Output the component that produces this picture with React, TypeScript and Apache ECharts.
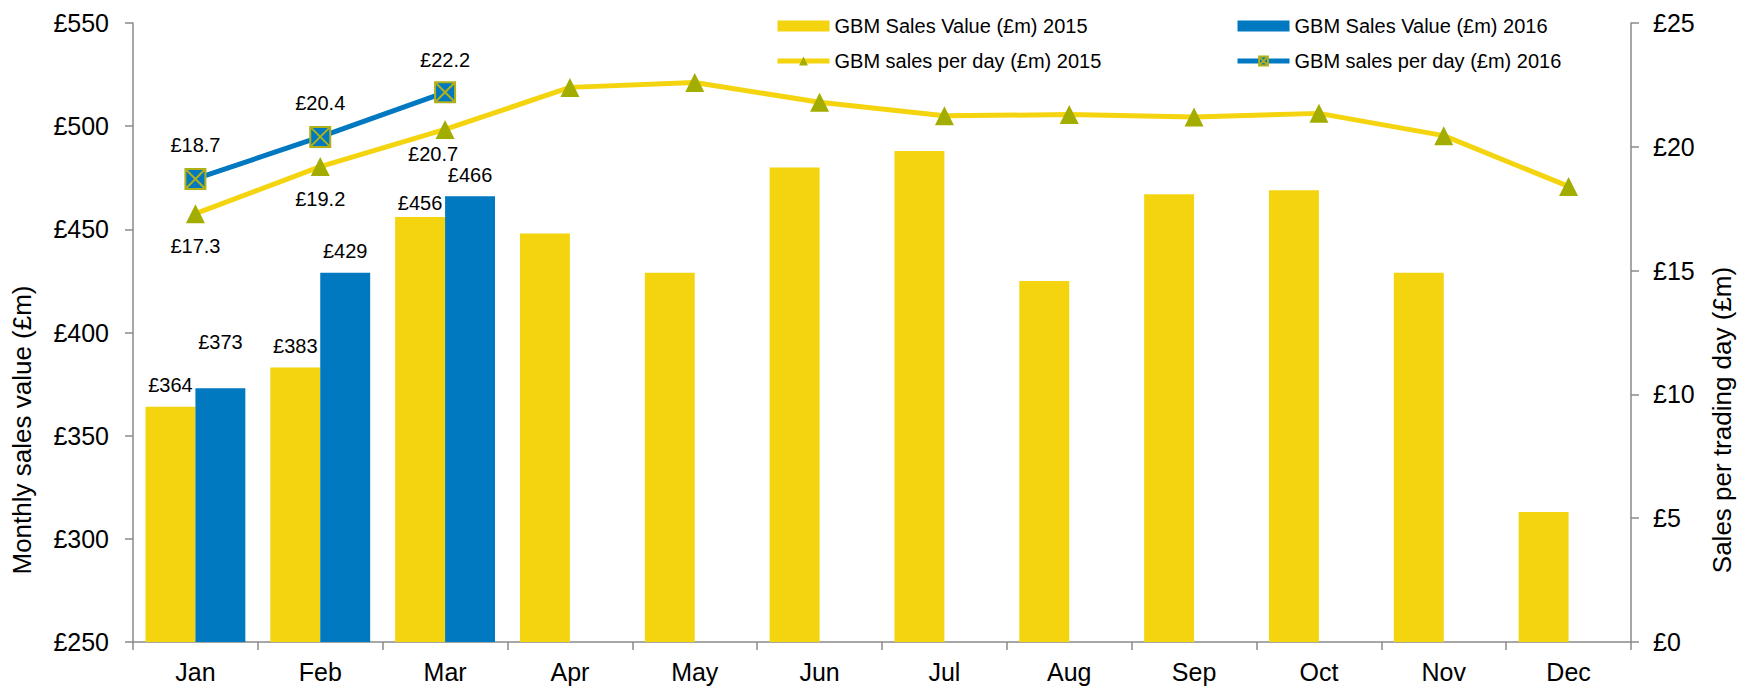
import React, { useEffect, useRef } from "react";
import * as echarts from "echarts";

// Months on the category axis
const months = ["Jan", "Feb", "Mar", "Apr", "May", "Jun", "Jul", "Aug", "Sep", "Oct", "Nov", "Dec"];

// Monthly sales value (£m)
const salesValue2015 = [364, 383, 456, 448, 429, 480, 488, 425, 467, 469, 429, 313];
const salesValue2016 = [373, 429, 466];

// Sales per trading day (£m)
const perDay2015 = [17.3, 19.2, 20.7, 22.4, 22.6, 21.8, 21.25, 21.3, 21.2, 21.35, 20.45, 18.4];
const perDay2016 = [18.7, 20.4, 22.2];

// Only the first quarter carries value labels
const labelledMonths = 3;

// Axis ranges
const valueAxisRange = { min: 250, max: 550, interval: 50 };
const perDayAxisRange = { min: 0, max: 25, interval: 5 };

const NAMES = {
  bar2015: "GBM Sales Value (£m) 2015",
  bar2016: "GBM Sales Value (£m) 2016",
  line2015: "GBM sales per day (£m) 2015",
  line2016: "GBM sales per day (£m) 2016",
};

const YELLOW = "#F4D40F";
const BLUE = "#0079C1";
const OLIVE = "#A3AD00";
const AXIS_GREY = "#8a8a8a";
const FONT = '"Liberation Sans", Arial, sans-serif';

// Square marker crossed with an X
const crossSquare = "path://M0,0H20V20H0Z M0,0L20,20 M20,0L0,20";

const money = (v: number | string) => "£" + v;

function buildOption(): echarts.EChartsOption {
  const barLabel = (distance: number) => ({
    show: true,
    position: "top" as const,
    distance,
    color: "#000",
    fontSize: 20,
    fontFamily: FONT,
    formatter: (p: any) => money(p.value),
  });

  // label lift above each labelled bar
  const lift2015 = [12, 12, 4];
  const lift2016 = [36, 12, 11];

  const bars2015 = salesValue2015.map((v, i) => ({
    value: v,
    label: i < labelledMonths ? barLabel(lift2015[i]) : { show: false },
  }));
  const bars2016 = salesValue2016.map((v, i) => ({
    value: v,
    label: i < labelledMonths ? barLabel(lift2016[i]) : { show: false },
  }));

  const lineLabel = (position: "top" | "bottom", distance: number, offset: number[] = [0, 0]) => ({
    show: true,
    position,
    distance,
    offset,
    color: "#000",
    fontSize: 20,
    fontFamily: FONT,
    formatter: (p: any) => money(p.value),
  });

  const points2015 = perDay2015.map((v, i) => ({
    value: v,
    label:
      i < labelledMonths
        ? i === 2
          ? lineLabel("bottom", 5, [-12, 0])
          : lineLabel("bottom", 13)
        : { show: false },
  }));
  const points2016 = perDay2016.map((v, i) => ({
    value: v,
    label: lineLabel("top", i === 2 ? 11 : 13),
  }));

  const legendText = { fontSize: 20, lineHeight: 22, color: "#000", fontFamily: FONT };

  const axisLabelStyle = { color: "#000", fontSize: 25, fontFamily: FONT };

  const legendBase = {
    top: 10,
    orient: "vertical" as const,
    itemWidth: 52,
    itemHeight: 11,
    itemGap: 13,
    selectedMode: false,
    textStyle: legendText,
    lineStyle: { width: "inherit" as any },
  };

  return {
    animation: false,
    backgroundColor: "#ffffff",
    grid: { left: 133, right: 121, top: 23, bottom: 45, containLabel: false },
    legend: [
      {
        ...legendBase,
        left: 770,
        data: [{ name: NAMES.bar2015, icon: "rect" }, { name: NAMES.line2015 }],
      },
      {
        ...legendBase,
        left: 1230,
        data: [{ name: NAMES.bar2016, icon: "rect" }, { name: NAMES.line2016 }],
      },
    ],
    xAxis: {
      type: "category",
      data: months,
      boundaryGap: true,
      axisLine: { show: true, lineStyle: { color: AXIS_GREY, width: 1.5 } },
      axisTick: { show: true, length: 8, alignWithLabel: false, lineStyle: { color: AXIS_GREY, width: 1.5 } },
      axisLabel: { ...axisLabelStyle, margin: 17 },
      splitLine: { show: false },
    },
    yAxis: [
      {
        type: "value",
        position: "left",
        ...valueAxisRange,
        axisLine: { show: true, lineStyle: { color: AXIS_GREY, width: 1.5 } },
        axisTick: { show: true, length: 8, lineStyle: { color: AXIS_GREY, width: 1.5 } },
        axisLabel: { ...axisLabelStyle, margin: 24, formatter: (v: number) => money(v) },
        splitLine: { show: false },
      },
      {
        type: "value",
        position: "right",
        ...perDayAxisRange,
        axisLine: { show: true, lineStyle: { color: AXIS_GREY, width: 1.5 } },
        axisTick: { show: true, length: 8, lineStyle: { color: AXIS_GREY, width: 1.5 } },
        axisLabel: { ...axisLabelStyle, margin: 22, formatter: (v: number) => money(v) },
        splitLine: { show: false },
      },
    ],
    series: [
      {
        name: NAMES.bar2015,
        type: "bar",
        yAxisIndex: 0,
        barGap: "0%",
        barCategoryGap: "20%",
        itemStyle: { color: YELLOW },
        data: bars2015,
        z: 2,
      },
      {
        name: NAMES.bar2016,
        type: "bar",
        yAxisIndex: 0,
        barGap: "0%",
        barCategoryGap: "20%",
        itemStyle: { color: BLUE },
        data: bars2016,
        z: 2,
      },
      {
        name: NAMES.line2015,
        type: "line",
        yAxisIndex: 1,
        symbol: "triangle",
        symbolSize: 19,
        showAllSymbol: true,
        itemStyle: { color: OLIVE },
        lineStyle: { color: YELLOW, width: 5 },
        data: points2015,
        z: 3,
      },
      {
        name: NAMES.line2016,
        type: "line",
        yAxisIndex: 1,
        symbol: crossSquare,
        symbolSize: 20,
        showAllSymbol: true,
        itemStyle: { color: BLUE, borderColor: "#B0B01A", borderWidth: 2 },
        lineStyle: { color: BLUE, width: 5 },
        data: points2016,
        z: 4,
      },
    ],
    graphic: [
      {
        type: "text",
        x: 21.5,
        y: 430,
        rotation: Math.PI / 2,
        style: {
          text: "Monthly sales value (£m)",
          fontSize: 26,
          fontFamily: FONT,
          fill: "#000",
          align: "center",
          verticalAlign: "middle",
          textAlign: "center",
          textVerticalAlign: "middle",
        } as any,
      },
      {
        type: "text",
        x: 1722,
        y: 420,
        rotation: Math.PI / 2,
        style: {
          text: "Sales per trading day (£m)",
          fontSize: 26,
          fontFamily: FONT,
          fill: "#000",
          align: "center",
          verticalAlign: "middle",
          textAlign: "center",
          textVerticalAlign: "middle",
        } as any,
      },
    ],
  };
}

export default function App() {
  const ref = useRef<HTMLDivElement>(null);

  useEffect(() => {
    if (!ref.current) return;
    const chart = echarts.init(ref.current, undefined, { renderer: "svg" });
    chart.setOption(buildOption());
    return () => chart.dispose();
  }, []);

  return (
    <div
      ref={ref}
      style={{ position: "absolute", left: 0, top: 0, width: 1752, height: 687, background: "#fff" }}
    />
  );
}
